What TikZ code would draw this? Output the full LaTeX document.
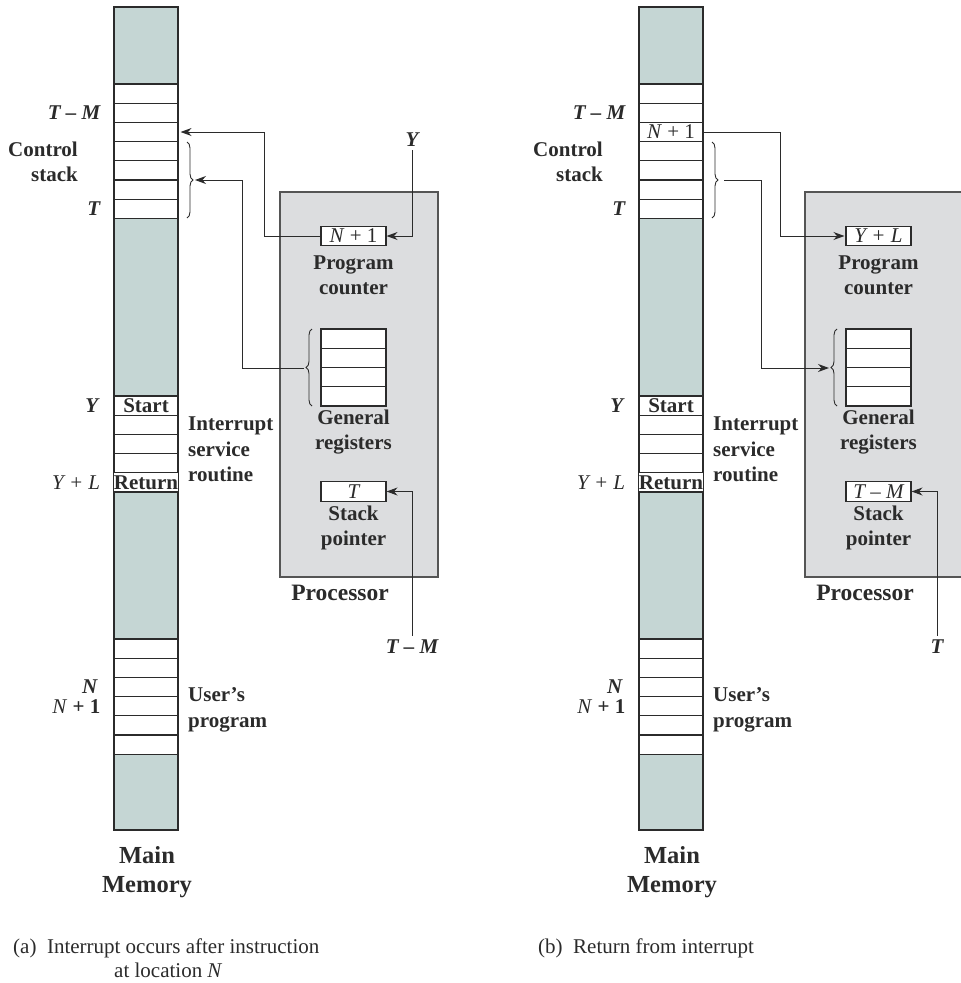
\documentclass[tikz,border=0pt]{standalone}
\usepackage{fontspec}
\setmainfont{Liberation Serif}
\usepackage{xcolor}
\definecolor{memFill}{HTML}{C5D6D4}
\definecolor{procFill}{HTML}{DCDDDF}
\definecolor{lineDark}{HTML}{2B2B2B}
\usetikzlibrary{positioning,arrows.meta,decorations.pathreplacing}

\begin{document}
\begin{tikzpicture}[x=1pt, y=-1pt,
  every node/.style={font=\bfseries\fontsize{21}{25.5}\selectfont, text=lineDark},
  memcol/.style={draw=lineDark, line width=1.2pt, fill=memFill, minimum width=64pt, minimum height=823pt, inner sep=0pt},
  cell/.style={draw=lineDark, line width=1.1pt, fill=white, minimum width=64pt, minimum height=19.2pt, inner sep=0pt},
  reg/.style={draw=lineDark, line width=1.1pt, fill=white, minimum width=65pt, minimum height=19.3pt, inner sep=0pt, font=\mdseries\itshape\fontsize{21}{20}\selectfont},
  cpu/.style={draw=lineDark!80, line width=1.1pt, fill=procFill, minimum width=158pt, minimum height=385pt, inner sep=0pt},
  lbl/.style={inner sep=0pt, align=center},
  addr/.style={inner sep=0pt, font=\bfseries\itshape\fontsize{21}{25}\selectfont},
  link/.style={draw=lineDark, line width=1pt, -{Stealth[length=11pt, width=8pt]}},
  curly/.style={draw=lineDark, line width=0.9pt, decorate, decoration={brace, amplitude=6pt}},
  figcap/.style={inner sep=0pt, align=left, font=\mdseries\fontsize{21}{24}\selectfont}]
  \clip (0,0) rectangle (961,983);
  \useasboundingbox (0,0) rectangle (961,983);

  % both panels: memory, processor, registers
  \foreach \p/\dx/\pcv/\spv in {a/0/{N \textup{+ 1}}/T, b/525/{Y + L}/{T – M}} {
    \begin{scope}[xshift=\dx]
      \node[memcol] (\p-mem) at (146,418.5) {};
      \foreach \i in {0,...,6}
        \node[cell] (\p-t\i) at (146,{93.6+19.2*\i}) {};
      \node[cell] (\p-s0) at (146,405.6) {Start};
      \foreach \i in {1,...,3}
        \node[cell] (\p-s\i) at (146,{405.6+19.2*\i}) {};
      \node[cell] (\p-s4) at (146,482.4) {Return};
      \foreach \i in {0,...,5}
        \node[cell] (\p-u\i) at (146,{648.6+19.2*\i}) {};

      \node[addr, left=13pt of \p-t1] (\p-ltm) {T – M};
      \node[addr, left=13pt of \p-t6] (\p-lt) {T};
      \node[lbl, align=right, anchor=east] (\p-cs) at (78,162) {Control\\stack};
      \node[addr, left=15pt of \p-s0] (\p-ly) {Y};
      \node[addr, left=13pt of \p-s4, font=\mdseries\itshape\fontsize{21}{25}\selectfont] (\p-lyl) {Y + L};
      \node[addr, left=16pt of \p-u2] (\p-ln) {N};
      \node[addr, left=13pt of \p-u3, font=\mdseries\itshape\fontsize{21}{25}\selectfont] (\p-ln1) {N \textbf{\textup{+ 1}}};
      \node[lbl, align=left, anchor=west] (\p-isr) at (188,449.5) {Interrupt\\service\\routine};
      \node[lbl, align=left, anchor=west] (\p-usr) at (188,710) {User’s\\program};
      \node[lbl, font=\bfseries\fontsize{24.5}{29}\selectfont] (\p-mm) at (147,872) {Main\\Memory};
      \draw[curly] (187,142) -- (187,218);
      \coordinate (\p-mb) at (195,180);

      \node[cpu] (\p-cpu) at (359,384.5) {};
      \node[lbl, font=\bfseries\fontsize{23.5}{25}\selectfont] (\p-cpul) at (340,593) {Processor};
      \node[reg] (\p-pc) at (353.5,236) {\pcv};
      \node[lbl] (\p-pcl) at (353.5,275) {Program\\counter};
      \foreach \i in {0,...,3}
        \node[reg] (\p-g\i) at (353.5,{338.6+19.25*\i}) {};
      \node[lbl] (\p-grl) at (353.5,432) {General\\registers};
      \draw[curly] (312,406) -- (312,329);
      \coordinate (\p-gb) at (304,368);
      \node[reg] (\p-sp) at (353.5,491.5) {\spv};
      \node[lbl] (\p-spl) at (353.5,528) {Stack\\pointer};
    \end{scope}
  }

  % (a) interrupt
  \node[addr] (a-y) at (412,140) {Y};
  \draw[link, shorten <=3pt] (a-y) |- (a-pc);
  \draw[link, shorten >=2pt] (a-pc.west) -- ++(-56,0) |- (a-t2.east);
  \draw[link] (a-gb) -- ++(-62,0) |- (a-mb);
  \node[addr] (a-tm) at (412,647) {T – M};
  \draw[link, shorten <=4pt] (a-tm) |- (a-sp);

  % (b) return
  \node[font=\mdseries\itshape\fontsize{21}{25}\selectfont, inner sep=0pt] (b-n1) at (b-t2) {N \textup{+ 1}};
  \draw[link, shorten >=1pt] (b-t2.east) -- ++(77,0) |- (b-pc.west);
  \draw[link] ([xshift=4pt]b-mb) -- ++(37,0) |- (b-gb);
  \node[addr] (b-t) at (937,647) {T};
  \draw[link, shorten <=4pt] (b-t) |- (b-sp);

  \node[figcap, anchor=north west] (a-cap) at (13,939) {(a)\enspace Interrupt occurs after instruction\\\hspace*{101pt}at location \textit{N}};
  \node[figcap, anchor=north west] (b-cap) at (538,939) {(b)\enspace Return from interrupt};
\end{tikzpicture}
\end{document}
